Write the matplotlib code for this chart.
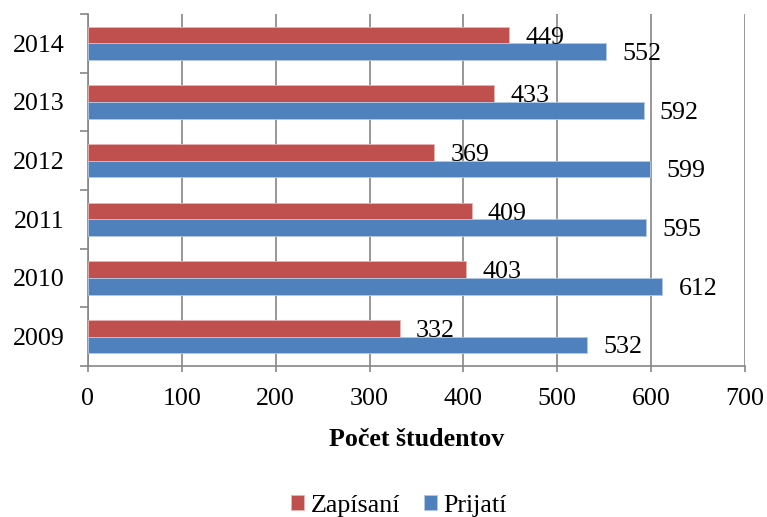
import matplotlib
matplotlib.use("Agg")
import matplotlib.pyplot as plt
import numpy as np

years = ["2009", "2010", "2011", "2012", "2013", "2014"]
zapisani = [332, 403, 409, 369, 433, 449]
prijati = [532, 612, 595, 599, 592, 552]
series_names = ["Zapísaní", "Prijatí"]
xticks = [0, 100, 200, 300, 400, 500, 600, 700]

plt.rcParams['font.family'] = ['Liberation Serif', 'DejaVu Serif']
FS = 18.7
RED = "#C0504D"
BLUE = "#4F81BD"
GRID = "#868686"

fig = plt.figure(figsize=(7.67, 5.17), dpi=100)
ax = fig.add_axes([88/767, 1-366/517, (745-88)/767, (366-14)/517])

y = np.arange(len(years))
h = 0.284
b1 = ax.barh(y + h/2, zapisani, height=h, color=RED, edgecolor="#E8B5B4", linewidth=0.6, label=series_names[0], zorder=3)
b2 = ax.barh(y - h/2, prijati, height=h, color=BLUE, edgecolor="#B4C8E4", linewidth=0.6, label=series_names[1], zorder=3)

for bars in (b1, b2):
    for rect in bars:
        w = rect.get_width()
        cy = rect.get_y() + rect.get_height()/2
        ax.annotate(f"{int(w)}", xy=(w, cy), xytext=(11.5, 0), textcoords="offset points",
                    ha="left", va="center_baseline", fontsize=FS, color="black", zorder=4)

ax.set_xlim(0, 700)
ax.set_ylim(-0.5, len(years) - 0.5)
ax.set_xticks(xticks)
ax.set_xticklabels([str(t) for t in xticks], fontsize=FS)
ax.set_yticks(y)
ax.set_yticklabels(years, fontsize=FS)
ax.set_yticks(np.arange(-0.5, len(years), 1.0), minor=True)
ax.tick_params(axis="y", which="major", length=0, pad=17)
ax.tick_params(axis="y", which="minor", length=6, width=1.2, color=GRID, direction="out")
ax.tick_params(axis="x", which="major", length=4.5, width=1.2, color=GRID, direction="out", pad=11)

ax.xaxis.grid(True, color=GRID, linewidth=1.2, zorder=0)
ax.set_axisbelow(True)
for s in ("top", "right"):
    ax.spines[s].set_visible(False)
for s in ("left", "bottom"):
    ax.spines[s].set_color(GRID)
    ax.spines[s].set_linewidth(1.2)

ax.set_xlabel("Počet študentov", fontsize=FS, fontweight="bold", labelpad=13)

fig.legend(handles=[b1, b2], labels=series_names, loc="center",
           bbox_to_anchor=(399/767, 1-506/517), bbox_transform=fig.transFigure,
           ncol=2, frameon=False, fontsize=FS, handlelength=0.5, handleheight=0.5,
           handletextpad=0.25, columnspacing=0.9, borderpad=0)

fig.savefig("out.png", dpi=100)
